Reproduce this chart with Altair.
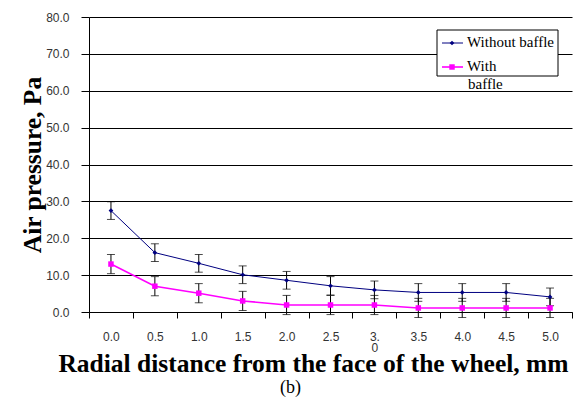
import altair as alt
import pandas as pd

x_labels = ["0.0", "0.5", "1.0", "1.5", "2.0", "2.5", "3.0", "3.5", "4.0", "4.5", "5.0"]
without_baffle = [27.5, 16.1, 13.2, 10.1, 8.6, 7.1, 6.0, 5.3, 5.3, 5.3, 4.1]
with_baffle = [13.0, 7.0, 5.1, 3.0, 1.9, 1.9, 1.9, 1.1, 1.1, 1.1, 1.1]
err_without = [2.4, 2.4, 2.4, 2.4, 2.4, 2.5, 2.4, 2.4, 2.4, 2.4, 2.4]
err_with = [2.6, 2.6, 2.6, 2.6, 2.6, 2.6, 2.6, 2.6, 2.6, 2.6, 2.6]
y_ticks = [0, 10, 20, 30, 40, 50, 60, 70, 80]
series_names = ["Without baffle", "With baffle"]
series_colors = ["#000080", "#FF00FF"]

rows = []
for name, vals, errs in [(series_names[0], without_baffle, err_without),
                         (series_names[1], with_baffle, err_with)]:
    for x, v, e in zip(x_labels, vals, errs):
        rows.append({"x": x, "series": name, "y": v, "lo": v - e, "hi": v + e})
df = pd.DataFrame(rows)

xaxis = alt.Axis(
    title="Radial distance from the face of the wheel, mm",
    tickBand="extent", labelAngle=0, tickSize=6, labelPadding=13, labelLineHeight=11,
    labelExpr="datum.label == '3.0' ? ['3.', '0'] : datum.label",
    titleX=224, titlePadding=-2,
)
xenc = alt.X("x:N", sort=x_labels,
             scale=alt.Scale(type="band", paddingInner=0, paddingOuter=0), axis=xaxis)
yaxis = alt.Axis(
    title="Air pressure, Pa", values=y_ticks, format=".1f", labelOverlap=False,
    grid=True, gridColor="black", gridWidth=1, tickSize=8, labelPadding=12,
    titlePadding=0,
)
yscale = alt.Scale(domain=[0, 80], nice=False)
color = alt.Color("series:N", scale=alt.Scale(domain=series_names, range=series_colors), legend=None)

base = alt.Chart(df)
lines = base.mark_line().encode(
    x=xenc, y=alt.Y("y:Q", scale=yscale, axis=yaxis), color=color,
    strokeWidth=alt.StrokeWidth("series:N", scale=alt.Scale(domain=series_names, range=[1, 1.6]), legend=None),
)
points = base.mark_point(filled=True, opacity=1).encode(
    x=xenc, y=alt.Y("y:Q", scale=yscale, axis=yaxis), color=color,
    shape=alt.Shape("series:N", scale=alt.Scale(domain=series_names, range=["diamond", "square"]), legend=None),
    size=alt.Size("series:N", scale=alt.Scale(domain=series_names, range=[22, 30]), legend=None),
)
err_rule = base.mark_rule(color="black", strokeWidth=1).encode(
    x=xenc, y=alt.Y("lo:Q", scale=yscale, axis=yaxis), y2="hi:Q")
cap_lo = base.mark_tick(color="black", size=8, thickness=1).encode(
    x=xenc, y=alt.Y("lo:Q", scale=yscale, axis=yaxis))
cap_hi = base.mark_tick(color="black", size=8, thickness=1).encode(
    x=xenc, y=alt.Y("hi:Q", scale=yscale, axis=yaxis))

one = pd.DataFrame({"k": [0]})
lg = alt.Chart(one)
leg_box = lg.mark_rect(fill="white", stroke="black", strokeWidth=1).encode(
    x=alt.value(348), x2=alt.value(469), y=alt.value(13), y2=alt.value(59))
leg_l1 = lg.mark_rule(color=series_colors[0], strokeWidth=1).encode(
    x=alt.value(353), x2=alt.value(374), y=alt.value(26))
leg_p1 = lg.mark_point(filled=True, opacity=1, shape="diamond", size=22, color=series_colors[0]).encode(
    x=alt.value(363), y=alt.value(26))
leg_t1 = lg.mark_text(align="left", baseline="middle", font="Liberation Serif", fontSize=15, color="black").encode(
    x=alt.value(378), y=alt.value(25), text=alt.value(series_names[0]))
leg_l2 = lg.mark_rule(color=series_colors[1], strokeWidth=1.6).encode(
    x=alt.value(353), x2=alt.value(374), y=alt.value(50))
leg_p2 = lg.mark_point(filled=True, opacity=1, shape="square", size=30, color=series_colors[1]).encode(
    x=alt.value(363), y=alt.value(50))
leg_t2 = lg.mark_text(align="left", baseline="middle", font="Liberation Serif", fontSize=15, color="black").encode(
    x=alt.value(378), y=alt.value(49), text=alt.value("With"))
leg_t3 = lg.mark_text(align="left", baseline="middle", font="Liberation Serif", fontSize=15, color="black").encode(
    x=alt.value(379), y=alt.value(67), text=alt.value("baffle"))

chart = alt.layer(
    lines, err_rule, cap_lo, cap_hi, points,
    leg_box, leg_l1, leg_p1, leg_t1, leg_l2, leg_p2, leg_t2, leg_t3,
).properties(
    width=565, height=389,
    autosize=alt.AutoSizeParams(type="fit", contains="padding"),
    padding={"left": 12, "top": 3, "right": 0, "bottom": 0},
    title=alt.TitleParams(text="(b)", orient="bottom", anchor="middle", dx=-40,
                          font="Liberation Serif", fontSize=18, fontWeight="normal",
                          color="black", offset=2),
).configure_view(stroke=None).configure_axis(
    domainColor="black", tickColor="black", labelColor="#333333",
    labelFont="Liberation Sans", labelFontSize=12,
    titleFont="Liberation Serif", titleFontWeight="bold", titleFontSize=25.5, titleColor="black",
)

chart.save("out.html", embed_options={"renderer": "svg", "actions": False})
